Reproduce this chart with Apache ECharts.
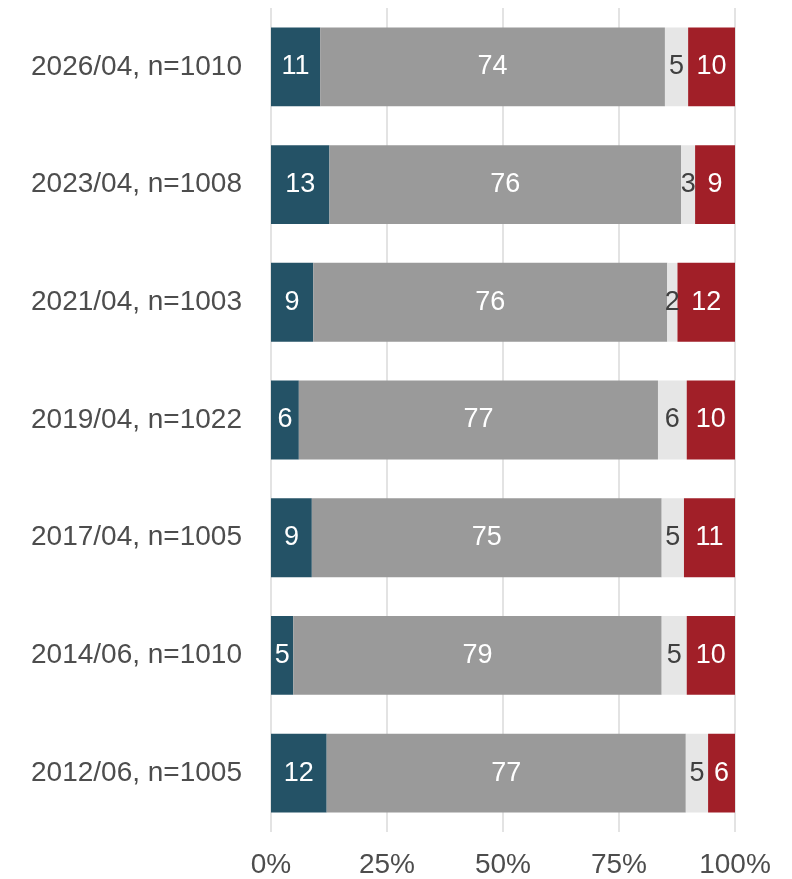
<!DOCTYPE html>
<html>
<head>
<meta charset="utf-8">
<script src="https://cdn.jsdelivr.net/npm/echarts@6/dist/echarts.min.js"></script>
<style>
  html, body { margin: 0; padding: 0; background: #fff; }
  #main { width: 792px; height: 879px; }
</style>
</head>
<body>
<div id="main"></div>
<script>
// categories, top to bottom
var categories = ['2026/04, n=1010', '2023/04, n=1008', '2021/04, n=1003', '2019/04, n=1022',
                  '2017/04, n=1005', '2014/06, n=1010', '2012/06, n=1005'];
// shares in %
var seg1 = [10.6, 12.6, 9.1, 6.0, 8.8, 4.8, 12.0];
var seg2 = [74.3, 75.8, 76.3, 77.4, 75.4, 79.4, 77.4];
var seg3 = [5.0, 3.0, 2.2, 6.2, 4.8, 5.4, 4.8];
var seg4 = [10.1, 8.6, 12.4, 10.4, 11.0, 10.4, 5.8];
var tickLabels = ['0%', '25%', '50%', '75%', '100%'];

var font = 'Liberation Sans, Arial, sans-serif';
var colors = ['#245266', '#9a9a9a', '#e6e6e6', '#a11f28'];
var labelColors = ['#ffffff', '#ffffff', '#404040', '#ffffff'];

function makeSeries(name, data, i) {
    return {
        name: name,
        type: 'bar',
        stack: 'all',
        barWidth: '67%',
        itemStyle: { color: colors[i] },
        label: {
            show: true,
            position: 'inside',
            color: labelColors[i],
            fontFamily: font,
            fontSize: 27,
            formatter: function (p) { return Math.round(p.value); }
        },
        data: data
    };
}

var myChart = echarts.init(document.getElementById('main'));
myChart.setOption({
    animation: false,
    grid: { left: 271, right: 57, top: 8, bottom: 46 },
    xAxis: {
        type: 'value',
        min: 0,
        max: 100,
        interval: 25,
        axisLine: { show: false },
        axisTick: { show: false },
        splitLine: { lineStyle: { color: '#e3e3e3', width: 2 } },
        axisLabel: {
            margin: 19,
            color: '#4d4d4d',
            fontFamily: font,
            fontSize: 28,
            formatter: function (v) { return tickLabels[v / 25]; }
        }
    },
    yAxis: {
        type: 'category',
        inverse: true,
        data: categories,
        axisLine: { show: false },
        axisTick: { show: false },
        axisLabel: {
            margin: 29,
            color: '#4d4d4d',
            fontFamily: font,
            fontSize: 28
        }
    },
    series: [
        makeSeries('a', seg1, 0),
        makeSeries('b', seg2, 1),
        makeSeries('c', seg3, 2),
        makeSeries('d', seg4, 3)
    ]
});
</script>
</body>
</html>
